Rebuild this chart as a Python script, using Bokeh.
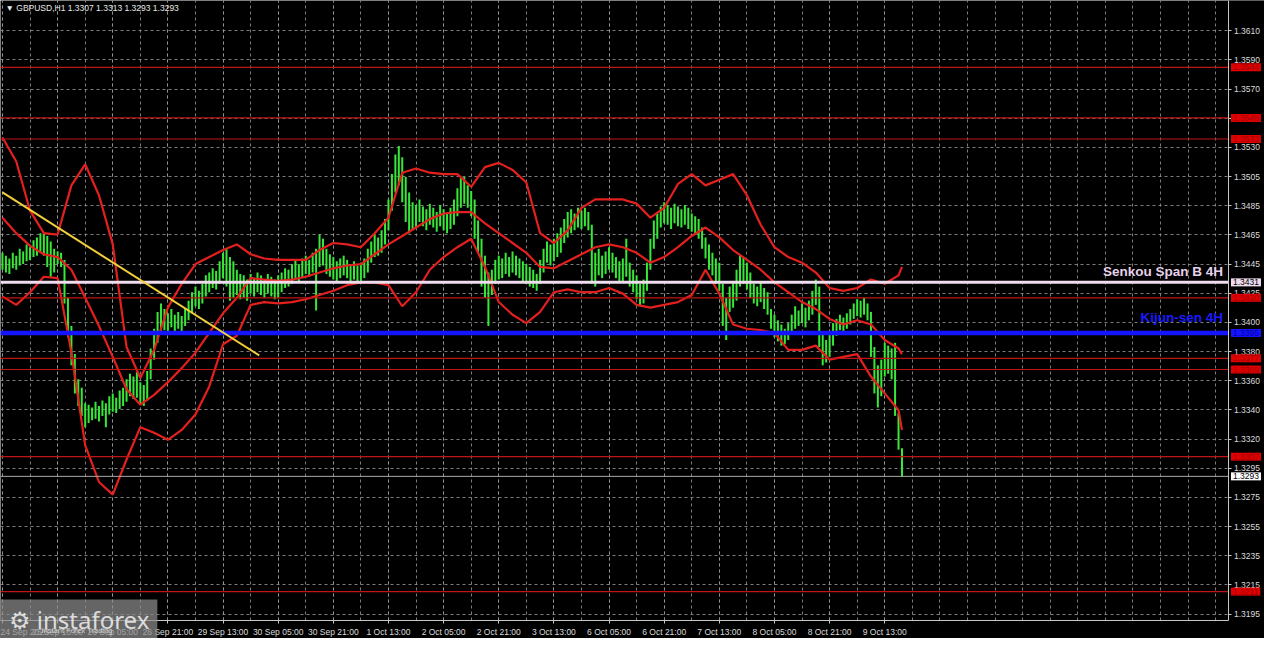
from bokeh.plotting import figure
from bokeh.models import Label, FixedTicker, CustomJSTickFormatter, Range1d, BoxAnnotation
from bokeh.embed import file_html
from bokeh.resources import INLINE
import numpy as np

# ---------------- data ----------------
symbol = "GBPUSD,H1"
last_ohlc = ["1.3307", "1.3313", "1.3293", "1.3293"]

bar_high = [
    1.3452, 1.3450, 1.3448, 1.3452, 1.3450, 1.3455, 1.3453, 1.3458, 1.3456, 1.3461,
    1.3463, 1.3466, 1.3465, 1.3464, 1.3460, 1.3455, 1.3453, 1.3452, 1.3447, 1.3420,
    1.3400, 1.3380, 1.3362, 1.3356, 1.3345, 1.3344, 1.3342, 1.3346, 1.3343, 1.3347,
    1.3345, 1.3350, 1.3352, 1.3349, 1.3354, 1.3356, 1.3362, 1.3366, 1.3364, 1.3367,
    1.3360, 1.3358, 1.3368, 1.3384, 1.3398, 1.3410, 1.3416, 1.3412, 1.3409, 1.3412,
    1.3408, 1.3410, 1.3407, 1.3412, 1.3418, 1.3424, 1.3428, 1.3425, 1.3430, 1.3436,
    1.3438, 1.3441, 1.3439, 1.3446, 1.3452, 1.3455, 1.3449, 1.3446, 1.3440, 1.3437,
    1.3436, 1.3433, 1.3437, 1.3434, 1.3438, 1.3436, 1.3433, 1.3437, 1.3435, 1.3433,
    1.3436, 1.3438, 1.3441, 1.3440, 1.3444, 1.3447, 1.3444, 1.3448, 1.3450, 1.3447,
    1.3452, 1.3455, 1.3465, 1.3462, 1.3455, 1.3451, 1.3449, 1.3446, 1.3448, 1.3450,
    1.3447, 1.3444, 1.3446, 1.3443, 1.3445, 1.3448, 1.3455, 1.3460, 1.3465, 1.3463,
    1.3468, 1.3476, 1.3490, 1.3508, 1.3522, 1.3528, 1.3520, 1.3506, 1.3495, 1.3488,
    1.3486, 1.3490, 1.3485, 1.3483, 1.3487, 1.3484, 1.3481, 1.3486, 1.3483, 1.3480,
    1.3484, 1.3490, 1.3498, 1.3505, 1.3506, 1.3500, 1.3496, 1.3490, 1.3475, 1.3462,
    1.3450, 1.3438, 1.3440, 1.3447, 1.3450, 1.3448, 1.3452, 1.3449, 1.3453, 1.3450,
    1.3448, 1.3446, 1.3444, 1.3442, 1.3440, 1.3437, 1.3447, 1.3455, 1.3460, 1.3458,
    1.3462, 1.3466, 1.3470, 1.3476, 1.3481, 1.3483, 1.3480, 1.3484, 1.3482, 1.3484,
    1.3481, 1.3472, 1.3452, 1.3455, 1.3450, 1.3453, 1.3456, 1.3452, 1.3449, 1.3446,
    1.3448, 1.3462, 1.3445, 1.3440, 1.3436, 1.3430, 1.3433, 1.3445, 1.3462, 1.3475,
    1.3480, 1.3485, 1.3488, 1.3486, 1.3484, 1.3487, 1.3485, 1.3483, 1.3486, 1.3484,
    1.3480, 1.3478, 1.3476, 1.3470, 1.3463, 1.3458, 1.3452, 1.3448, 1.3445, 1.3430,
    1.3420, 1.3428, 1.3432, 1.3440, 1.3451, 1.3449, 1.3445, 1.3438, 1.3430, 1.3428,
    1.3432, 1.3427, 1.3424, 1.3412, 1.3408, 1.3404, 1.3401, 1.3398, 1.3402, 1.3408,
    1.3414, 1.3411, 1.3416, 1.3413, 1.3418, 1.3425, 1.3433, 1.3428, 1.3395, 1.3390,
    1.3396, 1.3402, 1.3405, 1.3408, 1.3406, 1.3409, 1.3412, 1.3416, 1.3419, 1.3418,
    1.3420, 1.3416, 1.3410, 1.3385, 1.3372, 1.3376, 1.3388, 1.3386, 1.3384, 1.3388,
    1.3338, 1.3313,
]

bar_low = [
    1.3440, 1.3438, 1.3437, 1.3441, 1.3440, 1.3443, 1.3444, 1.3446, 1.3447, 1.3449,
    1.3450, 1.3452, 1.3450, 1.3442, 1.3435, 1.3438, 1.3444, 1.3442, 1.3416, 1.3392,
    1.3372, 1.3352, 1.3343, 1.3336, 1.3328, 1.3331, 1.3333, 1.3334, 1.3332, 1.3336,
    1.3328, 1.3337, 1.3339, 1.3338, 1.3341, 1.3343, 1.3346, 1.3350, 1.3348, 1.3349,
    1.3345, 1.3343, 1.3347, 1.3362, 1.3376, 1.3388, 1.3396, 1.3397, 1.3396, 1.3399,
    1.3396, 1.3398, 1.3394, 1.3400, 1.3404, 1.3409, 1.3414, 1.3412, 1.3416, 1.3421,
    1.3424, 1.3427, 1.3426, 1.3430, 1.3434, 1.3428, 1.3418, 1.3420, 1.3422, 1.3419,
    1.3420, 1.3418, 1.3423, 1.3421, 1.3424, 1.3422, 1.3420, 1.3423, 1.3421, 1.3419,
    1.3420, 1.3424, 1.3427, 1.3428, 1.3430, 1.3433, 1.3431, 1.3434, 1.3437, 1.3435,
    1.3438, 1.3411, 1.3442, 1.3443, 1.3437, 1.3435, 1.3433, 1.3432, 1.3434, 1.3436,
    1.3434, 1.3432, 1.3433, 1.3431, 1.3432, 1.3434, 1.3438, 1.3445, 1.3449, 1.3450,
    1.3452, 1.3458, 1.3468, 1.3482, 1.3495, 1.3500, 1.3488, 1.3474, 1.3466, 1.3468,
    1.3470, 1.3474, 1.3471, 1.3468, 1.3472, 1.3470, 1.3467, 1.3471, 1.3468, 1.3466,
    1.3469, 1.3472, 1.3478, 1.3484, 1.3487, 1.3484, 1.3478, 1.3462, 1.3452, 1.3428,
    1.3420, 1.3400, 1.3422, 1.3430, 1.3433, 1.3434, 1.3437, 1.3435, 1.3438, 1.3436,
    1.3434, 1.3432, 1.3430, 1.3428, 1.3427, 1.3425, 1.3430, 1.3438, 1.3445, 1.3443,
    1.3446, 1.3449, 1.3452, 1.3459, 1.3463, 1.3466, 1.3468, 1.3470, 1.3469, 1.3471,
    1.3468, 1.3430, 1.3428, 1.3436, 1.3434, 1.3437, 1.3440, 1.3438, 1.3434, 1.3431,
    1.3432, 1.3435, 1.3428, 1.3424, 1.3419, 1.3414, 1.3416, 1.3425, 1.3440, 1.3455,
    1.3462, 1.3470, 1.3473, 1.3472, 1.3469, 1.3473, 1.3471, 1.3470, 1.3472, 1.3469,
    1.3467, 1.3465, 1.3462, 1.3455, 1.3448, 1.3440, 1.3436, 1.3430, 1.3425, 1.3400,
    1.3390, 1.3410, 1.3413, 1.3418, 1.3428, 1.3430, 1.3426, 1.3420, 1.3416, 1.3414,
    1.3417, 1.3412, 1.3408, 1.3398, 1.3392, 1.3389, 1.3386, 1.3387, 1.3390, 1.3396,
    1.3398, 1.3400, 1.3402, 1.3399, 1.3404, 1.3408, 1.3415, 1.3385, 1.3372, 1.3374,
    1.3378, 1.3386, 1.3393, 1.3397, 1.3396, 1.3398, 1.3401, 1.3405, 1.3407, 1.3406,
    1.3408, 1.3404, 1.3378, 1.3352, 1.3342, 1.3350, 1.3364, 1.3366, 1.3362, 1.3336,
    1.3312, 1.3293,
]

band_bar = list(range(0, 261, 4)) + [261]
band_upper = [
    1.3534, 1.3517, 1.3482, 1.3466, 1.3465, 1.3500, 1.3515, 1.3493, 1.3458, 1.3385,
    1.3363, 1.3383, 1.3413, 1.3430, 1.3444, 1.3449, 1.3454, 1.3458, 1.3451, 1.3448,
    1.3447, 1.3447, 1.3447, 1.3454, 1.3459, 1.3458, 1.3456, 1.3466, 1.3477, 1.3509,
    1.3512, 1.3509, 1.3508, 1.3508, 1.3499, 1.3513, 1.3516, 1.3511, 1.3502, 1.3466,
    1.3459, 1.3468, 1.3484, 1.3490, 1.3490, 1.3490, 1.3487, 1.3477, 1.3484, 1.3501,
    1.3508, 1.3500, 1.3504, 1.3508, 1.3493, 1.3472, 1.3456, 1.3449, 1.3445, 1.3438,
    1.3427, 1.3425, 1.3427, 1.3433, 1.3430, 1.3436, 1.3442,
]
band_middle = [
    1.3477, 1.3466, 1.3457, 1.3451, 1.3449, 1.3440, 1.3420, 1.3400, 1.3378, 1.3355,
    1.3344, 1.3351, 1.3360, 1.3370, 1.3381, 1.3395, 1.3409, 1.3420, 1.3434, 1.3433,
    1.3432, 1.3433, 1.3435, 1.3438, 1.3441, 1.3443, 1.3444, 1.3451, 1.3458, 1.3464,
    1.3470, 1.3476, 1.3480, 1.3481, 1.3481, 1.3473, 1.3466, 1.3459, 1.3452, 1.3442,
    1.3441, 1.3446, 1.3451, 1.3456, 1.3458, 1.3456, 1.3452, 1.3445, 1.3449, 1.3456,
    1.3464, 1.3470, 1.3463, 1.3454, 1.3447, 1.3440, 1.3431, 1.3424, 1.3417, 1.3412,
    1.3405, 1.3401, 1.3404, 1.3401, 1.3390, 1.3384, 1.3380,
]
band_lower = [
    1.3421, 1.3415, 1.3424, 1.3435, 1.3434, 1.3381, 1.3315, 1.3289, 1.3280, 1.3305,
    1.3328, 1.3324, 1.3319, 1.3326, 1.3337, 1.3357, 1.3387, 1.3393, 1.3415, 1.3417,
    1.3416, 1.3417, 1.3419, 1.3422, 1.3425, 1.3429, 1.3431, 1.3431, 1.3429, 1.3414,
    1.3424, 1.3440, 1.3449, 1.3456, 1.3462, 1.3442, 1.3417, 1.3408, 1.3402, 1.3410,
    1.3424, 1.3426, 1.3424, 1.3424, 1.3427, 1.3423, 1.3415, 1.3413, 1.3415, 1.3417,
    1.3422, 1.3440, 1.3423, 1.3401, 1.3398, 1.3397, 1.3395, 1.3383, 1.3383, 1.3386,
    1.3376, 1.3378, 1.3380, 1.3364, 1.3352, 1.3340, 1.3326,
]

trend_bar = [0, 74.5]
trend_price = [1.3495, 1.3379]

time_labels = ["24 Sep 2025", "25 Sep 13:00", "26 Sep 05:00", "26 Sep 21:00",
               "29 Sep 13:00", "30 Sep 05:00", "30 Sep 21:00", "1 Oct 13:00",
               "2 Oct 05:00", "2 Oct 21:00", "3 Oct 13:00", "6 Oct 05:00",
               "6 Oct 21:00", "7 Oct 13:00", "8 Oct 05:00", "8 Oct 21:00",
               "9 Oct 13:00"]
price_labels = ["1.3610", "1.3590", "1.3570", "1.3550", "1.3530", "1.3505", "1.3485",
                "1.3465", "1.3445", "1.3425", "1.3400", "1.3380", "1.3360", "1.3340",
                "1.3320", "1.3295", "1.3275", "1.3255", "1.3235", "1.3215", "1.3195"]

red_levels = [1.3584, 1.3548, 1.3533, 1.3420, 1.3377, 1.3369, 1.3307, 1.3211]
senkou_b_4h = 1.3431
kijun_4h = 1.3395
bid_price = 1.3293

# ---------------- figure ----------------
FONT = "Liberation Sans"
X0, X1 = -0.573, 366.19          # visible bar-index range
Y0, Y1 = 1.317766, 1.363151      # visible price range
AXIS_X = 355.88                  # where the price scale sits
AXIS_Y = 1.319016                # where the time scale sits

p = figure(width=1264, height=638, output_backend="svg", toolbar_location=None,
           x_range=Range1d(X0, X1), y_range=Range1d(Y0, Y1),
           x_axis_location="below", y_axis_location="right",
           background_fill_color="black", border_fill_color="black",
           min_border_left=0, min_border_top=0, min_border_right=0, min_border_bottom=0)
p.outline_line_color = None

# axes drawn at fixed places inside the canvas (MetaTrader layout)
grid_pos = np.linspace(float(price_labels[0]), float(price_labels[-1]), len(price_labels)).tolist()
p.yaxis.ticker = FixedTicker(ticks=grid_pos)
p.yaxis.formatter = CustomJSTickFormatter(args=dict(pos=grid_pos, labs=price_labels), code="""
let b = 0;
for (let j = 0; j < pos.length; j++) {
  if (Math.abs(pos[j] - tick) < Math.abs(pos[b] - tick)) { b = j; }
}
return labs[b];
""")
p.yaxis.fixed_location = AXIS_X
p.yaxis.bounds = (AXIS_Y, Y1)

n_bars = len(bar_high)
x_major = [16 * k for k in range(len(time_labels))]
p.xaxis.ticker = FixedTicker(ticks=x_major, minor_ticks=list(range(0, 356, 8)))
p.xaxis.major_label_overrides = {t: lab for t, lab in zip(x_major, time_labels)}
p.xaxis.fixed_location = AXIS_Y
p.xaxis.bounds = (X0, AXIS_X)

for ax in (p.xaxis[0], p.yaxis[0]):
    ax.axis_line_color = "#c8c8c8"
    ax.major_tick_line_color = "#c8c8c8"
    ax.major_tick_out = 3
    ax.major_tick_in = 0
    ax.minor_tick_line_color = None
    ax.major_label_text_color = "#dcdcdc"
    ax.major_label_text_font = FONT
    ax.major_label_text_font_size = "8.5px"
    ax.major_label_standoff = 2

for g in (p.xgrid[0], p.ygrid[0]):
    g.grid_line_color = "#9a9a9a"
    g.grid_line_dash = "3 3"
    g.grid_line_alpha = 0.8
p.xgrid.minor_grid_line_color = "#9a9a9a"
p.xgrid.minor_grid_line_dash = "3 3"
p.xgrid.minor_grid_line_alpha = 0.8

# black margins over the grid where the scales are
p.add_layout(BoxAnnotation(left=AXIS_X, fill_color="black", fill_alpha=1,
                           line_color=None, level="underlay"))
p.add_layout(BoxAnnotation(top=AXIS_Y, fill_color="black", fill_alpha=1,
                           line_color=None, level="underlay"))

# price bars
idx = list(range(n_bars))
p.segment(x0=idx, y0=bar_low, x1=idx, y1=bar_high, line_color="#38e838", line_width=2)

# bands
for band in (band_upper, band_middle, band_lower):
    p.line(band_bar, band, line_color="#e3201d", line_width=2.2)

# horizontal levels (stop at the price scale)
nr = len(red_levels)
p.segment(x0=[X0] * nr, x1=[AXIS_X] * nr, y0=red_levels, y1=red_levels,
          line_color="#c01515", line_width=1.2)
p.segment(x0=[X0], x1=[AXIS_X], y0=[bid_price], y1=[bid_price], line_color="#a8a8a8", line_width=1)
p.segment(x0=[X0], x1=[AXIS_X], y0=[senkou_b_4h], y1=[senkou_b_4h], line_color="#efdcef", line_width=3)
p.segment(x0=[X0], x1=[AXIS_X], y0=[kijun_4h], y1=[kijun_4h], line_color="#1414ff", line_width=4.5)

# trend line
p.line(trend_bar, trend_price, line_color="#f2cf3a", line_width=2)

# level texts
p.add_layout(Label(x=AXIS_X, y=senkou_b_4h, x_offset=-6, y_offset=11, text="Senkou Span B 4H",
                   text_align="right", text_baseline="middle", text_font=FONT,
                   text_font_style="bold", text_font_size="13.5px", text_color="#e6d2ea"))
p.add_layout(Label(x=AXIS_X, y=kijun_4h, x_offset=-6, y_offset=15, text="Kijun-sen 4H",
                   text_align="right", text_baseline="middle", text_font=FONT,
                   text_font_style="bold", text_font_size="13.5px", text_color="#1a1aff"))

# price boxes on the price scale
def price_box(v, bg, fg):
    p.add_layout(Label(x=AXIS_X, y=v, x_offset=2, text=f"{v:.4f}", text_align="left",
                       text_baseline="middle", text_font=FONT, text_font_size="8.5px",
                       text_color=fg, background_fill_color=bg, padding=(2, 1)))

for lv in red_levels:
    price_box(lv, "#e00000", "#a00000")
price_box(senkou_b_4h, "#efdcef", "#000000")
price_box(kijun_4h, "#1414ff", "#0000a0")
price_box(bid_price, "#ffffff", "#000000")

# header
p.add_layout(Label(x=X0, y=Y1, x_offset=5, y_offset=-2,
                   text="\u25bc " + symbol + "  " + " ".join(last_ohlc),
                   text_align="left", text_baseline="top", text_font=FONT,
                   text_font_size="8.5px", text_color="#e8e8e8"))

# logo
p.add_layout(Label(x=0, y=19.5, x_units="screen", y_units="screen", text="\u2699 instaforex",
                   text_align="left", text_baseline="middle", text_font="Noto Sans",
                   text_font_size="24px", text_color="#f2f2f2", text_alpha=0.85,
                   background_fill_color="#8c8c8c", background_fill_alpha=0.72,
                   padding=(8, 3)))
p.add_layout(Label(x=41, y=8, x_units="screen", y_units="screen", text="Instant Forex Trading",
                   text_align="left", text_baseline="middle", text_font=FONT,
                   text_font_size="7.5px", text_color="#e8e8e8", text_alpha=0.8))

open("out.html", "w").write(file_html(p, INLINE))
